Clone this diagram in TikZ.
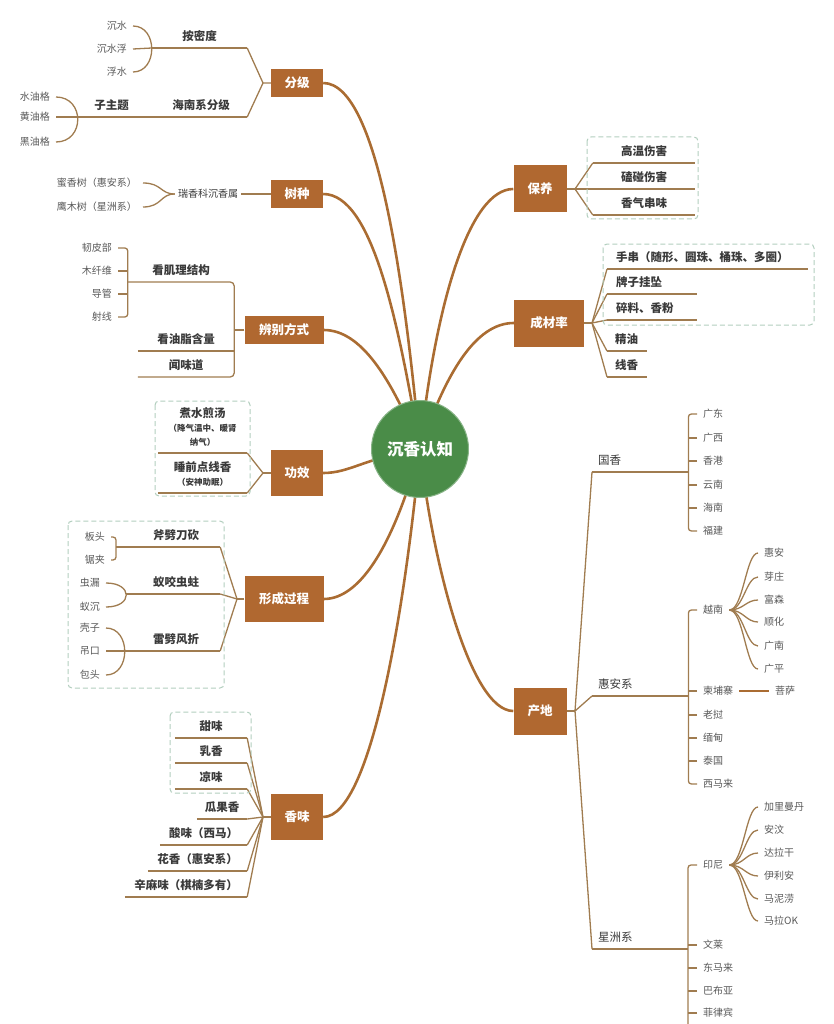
\documentclass[tikz,border=0pt]{standalone}
\usepackage{fontspec}
\setmainfont{Noto Sans CJK SC}
\usetikzlibrary{backgrounds}
\definecolor{hubclr}{RGB}{74,140,72}
\definecolor{boxclr}{RGB}{176,104,48}
\definecolor{trunkclr}{RGB}{170,108,50}
\definecolor{twigclr}{RGB}{160,124,80}
\definecolor{dashclr}{RGB}{178,206,190}
\definecolor{subclr}{RGB}{58,58,58}
\definecolor{leafclr}{RGB}{88,88,88}
\newcommand\gxnote{\bfseries\fontsize{8.5}{13}\selectfont}
\tikzset{
  hub/.style={circle,fill=hubclr,draw=hubclr!65!white,line width=1pt,
              minimum size=97,inner sep=0pt,text=white,
              font=\bfseries\fontsize{16.5}{18}\selectfont},
  topic/.style={rectangle,fill=boxclr,text=white,inner sep=0pt,
                font=\bfseries\fontsize{12.5}{14}\selectfont},
  trunk/.style={draw=trunkclr,line width=2.6pt},
  twig/.style={draw=twigclr,line width=1.3pt},
  subt/.style={anchor=south,inner xsep=0pt,inner ysep=6pt,text depth=1pt,
               text=subclr,font=\bfseries\fontsize{11.5}{14}\selectfont},
  lsub/.style={subt,anchor=south west,align=left,inner xsep=9pt},
  area/.style={lsub,inner xsep=6pt,text width=84,font=\fontsize{11.5}{14}\selectfont},
  uline/.style={append after command={(\tikzlastnode.south west) edge[twig] (\tikzlastnode.south east)}},
  leaf/.style={inner xsep=6pt,inner ysep=1pt,text=leafclr,
               font=\fontsize{10}{12}\selectfont},
  grp/.style={draw=dashclr,dash pattern=on 5pt off 3pt,line width=1pt,rounded corners=4pt},
}

\begin{document}
\begin{tikzpicture}[x=1pt,y=-1pt]
\useasboundingbox (0,0) rectangle (833,1024);

% centre
\node[hub] (root) at (420,449) {沉香认知};

% main topics
\node[topic,minimum width=52,minimum height=28] (fenji)     at (297,83)  {分级};
\node[topic,minimum width=52,minimum height=28] (shuzhong)  at (297,194) {树种};
\node[topic,minimum width=79,minimum height=28] (bianbie)   at (284,330) {辨别方式};
\node[topic,minimum width=52,minimum height=46] (gongxiao)  at (297,473) {功效};
\node[topic,minimum width=79,minimum height=46] (xingcheng) at (284,599) {形成过程};
\node[topic,minimum width=52,minimum height=46] (xiangwei)  at (297,817) {香味};
\node[topic,minimum width=53,minimum height=47] (baoyang)   at (540,189) {保养};
\node[topic,minimum width=70,minimum height=47] (chengcai)  at (549,323) {成材率};
\node[topic,minimum width=53,minimum height=47] (chandi)    at (540,711) {产地};

\begin{scope}[on background layer]
\draw[trunk] (fenji.east) .. controls (380,83) and (406,300) .. (root.center);
\draw[trunk] (shuzhong.east) .. controls (372,194) and (398,320) .. (root.center);
\draw[trunk] (bianbie.east) .. controls (360,330) and (390,375) .. (root.center);
\draw[trunk] (gongxiao.east) .. controls (350,473) and (365,458) .. (root.center);
\draw[trunk] (xingcheng.east) .. controls (362,599) and (395,540) .. (root.center);
\draw[trunk] (xiangwei.east) .. controls (372,817) and (406,600) .. (root.center);
\draw[trunk] (baoyang.west) .. controls (470,189) and (436,300) .. (root.center);
\draw[trunk] (chengcai.west) .. controls (476,323) and (446,372) .. (root.center);
\draw[trunk] (chandi.west) .. controls (470,711) and (432,560) .. (root.center);
\end{scope}

% 分级
\node[leaf,anchor=east] (chenshui)   at (133,26) {沉水};
\node[leaf,anchor=east] (chenshuifu) at (133,49) {沉水浮};
\node[leaf,anchor=east] (fushui)     at (133,72) {浮水};
\node[subt,uline,minimum width=95] (anmidu) at (199.5,48) {按密度};
\node[leaf,anchor=east] (shuiyou)  at (56,97)  {水油格};
\node[leaf,anchor=east] (huangyou) at (56,117) {黄油格};
\node[leaf,anchor=east] (heiyou)   at (56,142) {黑油格};
\node[subt,uline,minimum width=87] (zizhuti)  at (111.5,117) {子主题};
\node[subt,uline,minimum width=92] (hainanji) at (201,117) {海南系分级};
\coordinate (fjFork) at (263,83);
\draw[twig] (chenshui.east) .. controls (158,26) and (158,72) .. (fushui.east);
\draw[twig] (chenshuifu.east) -- (anmidu.south west);
\draw[twig] (shuiyou.east) .. controls (85,97) and (85,142) .. (heiyou.east);
\draw[twig] (huangyou.east) -- (zizhuti.south west);
\draw[twig] (fenji.west) -- (fjFork) -- (anmidu.south east);
\draw[twig] (fjFork) -- (hainanji.south east);

% 树种
\node[leaf,anchor=east] (mixiang) at (143,183) {蜜香树（惠安系）};
\node[leaf,anchor=east] (yingmu)  at (143,207) {鹰木树（星洲系）};
\node[leaf,inner xsep=3pt,text=subclr] (ruixiang) at (208,194) {瑞香科沉香属};
\draw[twig] (mixiang.east) .. controls (162,183) and (160,194) .. (ruixiang.west);
\draw[twig] (yingmu.east) .. controls (162,207) and (160,194) .. (ruixiang.west);
\draw[twig] (ruixiang.east) -- (shuzhong.west);

% 辨别方式
\node[leaf,anchor=east] (renpi)   at (118,248) {韧皮部};
\node[leaf,anchor=east] (muxian)  at (118,271) {木纤维};
\node[leaf,anchor=east] (daoguan) at (118,294) {导管};
\node[leaf,anchor=east] (shexian) at (118,317) {射线};
\node[subt,minimum width=106] (jili) at (181,282) {看肌理结构};
\node[subt,uline,minimum width=96] (youzhi) at (186,351) {看油脂含量};
\node[subt,minimum width=96] (wenwei) at (186,377) {闻味道};
\draw[twig,rounded corners=3] (renpi.east) -| (jili.south west) |- (shexian.east);
\foreach \n in {muxian,daoguan} \draw[twig] (\n.east) -- (\n.east -| jili.south west);
\draw[twig,rounded corners=4] (jili.south west) -- (jili.south east)
  -- (wenwei.south east) -- (wenwei.south west);
\draw[twig] (bianbie.west) -- (bianbie.west -| jili.south east);

% 功效
\node[subt,uline,minimum width=89,align=center] (zhushui) at (202.5,453)
  {煮水煎汤\\ {\gxnote（降气温中、暖肾}\\ {\gxnote 纳气）}};
\node[subt,uline,minimum width=89,align=center] (shuiqian) at (202.5,493)
  {睡前点线香\\ {\gxnote（安神助眠）}};
\coordinate (gxFork) at (263,473);
\draw[twig] (gongxiao.west) -- (gxFork);
\foreach \n in {zhushui,shuiqian} \draw[twig] (gxFork) -- (\n.south east);
\draw[grp] (155,401) rectangle (250,496);

% 形成过程
\node[leaf,anchor=east] (bantou)  at (111,537) {板头};
\node[leaf,anchor=east] (jujia)   at (111,560) {锯夹};
\node[leaf,anchor=east] (chonglou) at (106,583) {虫漏};
\node[leaf,anchor=east] (yichen)  at (106,607) {蚁沉};
\node[leaf,anchor=east] (kezi)    at (106,628) {壳子};
\node[leaf,anchor=east] (diaokou) at (106,651) {吊口};
\node[leaf,anchor=east] (baotou)  at (106,675) {包头};
\node[subt,uline,minimum width=88] (fupi)  at (176,547) {斧劈刀砍};
\node[subt,uline,minimum width=88] (yiyao) at (176,594) {蚁咬虫蛀};
\node[subt,uline,minimum width=88] (leipi) at (176,651) {雷劈风折};
\coordinate (ftBr) at (116,547);
\coordinate (yyBr) at (126,594);
\draw[twig,rounded corners=3] (bantou.east) -| (ftBr) |- (jujia.east);
\draw[twig] (ftBr) -- (fupi.south west);
\draw[twig] (chonglou.east) .. controls (133,583) and (133,607) .. (yichen.east);
\draw[twig] (yyBr) -- (yiyao.south west);
\draw[twig] (kezi.east) .. controls (131,628) and (131,675) .. (baotou.east);
\draw[twig] (diaokou.east) -- (leipi.south west);
\coordinate (xcFork) at (237,599);
\draw[twig] (xingcheng.west) -- (xcFork);
\foreach \n in {fupi,yiyao,leipi} \draw[twig] (xcFork) -- (\n.south east);
\draw[grp] (68,521) rectangle (224,688);

% 香味
\node[subt,uline,minimum width=72]  (tianwei)  at (211,738)   {甜味};
\node[subt,uline,minimum width=72]  (ruxiang)  at (211,763)   {乳香};
\node[subt,uline,minimum width=72]  (liangwei) at (211,789)   {凉味};
\node[subt,uline,minimum width=50]  (guaguo)   at (222,819)   {瓜果香};
\node[subt,uline,minimum width=87]  (suanwei)  at (203.5,845) {酸味（西马）};
\node[subt,uline,minimum width=99]  (huaxiang) at (197.5,871) {花香（惠安系）};
\node[subt,uline,minimum width=122] (xinma)    at (186,897)   {辛麻味（棋楠多有）};
\coordinate (xwFork) at (263,817);
\draw[twig] (xiangwei.west) -- (xwFork);
\foreach \n in {tianwei,ruxiang,liangwei,guaguo,suanwei,huaxiang,xinma}
  \draw[twig] (xwFork) -- (\n.south east);
\draw[grp] (170,712) rectangle (251,793);

% 保养
\node[subt,uline,minimum width=102] (gaowen)   at (644,163) {高温伤害};
\node[subt,uline,minimum width=102] (kepeng)   at (644,189) {磕碰伤害};
\node[subt,uline,minimum width=102] (chuanwei) at (644,215) {香气串味};
\coordinate (byFork) at (575,189);
\draw[twig] (baoyang.east) -- (byFork);
\foreach \n in {gaowen,kepeng,chuanwei} \draw[twig] (byFork) -- (\n.south west);
\draw[grp] (587,137) rectangle (698,219);

% 成材率
\node[lsub,uline,text width=183] (shouchuan) at (607,269) {手串（随形、圆珠、桶珠、多圈）};
\node[lsub,uline,text width=72]  (paizi)     at (607,294) {牌子挂坠};
\node[lsub,uline,text width=72]  (suiliao)   at (607,320) {碎料、香粉};
\node[lsub,uline,text width=24,inner xsep=8pt] (jingyou)   at (607,351) {精油};
\node[lsub,uline,text width=24,inner xsep=8pt] (xianxiang) at (607,377) {线香};
\coordinate (ccFork) at (592,323);
\draw[twig] (chengcai.east) -- (ccFork);
\foreach \n in {shouchuan,paizi,suiliao,jingyou,xianxiang}
  \draw[twig] (ccFork) -- (\n.south west);
\draw[grp] (603,244) rectangle (814,325);

% 产地
\node[area,uline] (guoxiang) at (592,472) {国香};
\node[area,uline] (huianxi)  at (592,696) {惠安系};
\node[area,uline] (xingzhou) at (592,949) {星洲系};
\coordinate (cdFork) at (575,711);
\draw[twig] (chandi.east) -- (cdFork);
\foreach \n in {guoxiang,huianxi,xingzhou} \draw[twig] (cdFork) -- (\n.south west);

% 国香
\foreach \n/\t/\y in {guangdong/广东/414,guangxi/广西/438,xianggang/香港/461,
                      yunnan/云南/485,hainan/海南/508,fujian/福建/531}
  \node[leaf,anchor=west] (\n) at (697,\y) {\t};
\draw[twig,rounded corners=3] (guangdong.west) -| (guoxiang.south east) |- (fujian.west);
\foreach \n in {guangxi,xianggang,yunnan,hainan}
  \draw[twig] (\n.west) -- (\n.west -| guoxiang.south east);

% 惠安系
\foreach \n/\t/\y in {yuenan/越南/610,jianpuzhai/柬埔寨/691,laowo/老挝/715,
                      miandian/缅甸/738,taiguo/泰国/761,ximalai/西马来/784}
  \node[leaf,anchor=west] (\n) at (697,\y) {\t};
\draw[twig,rounded corners=3] (yuenan.west) -| (huianxi.south east) |- (ximalai.west);
\foreach \n in {jianpuzhai,laowo,miandian,taiguo}
  \draw[twig] (\n.west) -- (\n.west -| huianxi.south east);
\foreach \n/\t/\y in {huian/惠安/553,yazhuang/芽庄/577,fusen/富森/600,
                      shunhua/顺化/622,guangnan/广南/646,guangping/广平/669} {
  \node[leaf,anchor=west] (\n) at (758,\y) {\t};
  \draw[twig] (yuenan.east) .. controls +(14,0) and +(-12,0) .. (\n.west);
}
\node[leaf,anchor=west] (pusa) at (769,691) {菩萨};
\draw[draw=trunkclr,line width=2.4pt] (jianpuzhai.east) -- (pusa.west);

% 星洲系
\foreach \n/\t/\y in {yinni/印尼/865,wenlai/文莱/945,dongmalai/东马来/968,
                      babuya/巴布亚/991,feilvbin/菲律宾/1013}
  \node[leaf,anchor=west] (\n) at (697,\y) {\t};
\coordinate (xzEnd) at (688,1030);
\draw[twig,rounded corners=3] (yinni.west) -| (xzEnd);
\foreach \n in {wenlai,dongmalai,babuya,feilvbin}
  \draw[twig] (\n.west) -- (\n.west -| xzEnd);
\foreach \n/\t/\y in {jiali/加里曼丹/807,anwen/安汶/830,dalagan/达拉干/853,
                      yilian/伊利安/876,manilao/马泥涝/899,malaok/马拉OK/921} {
  \node[leaf,anchor=west] (\n) at (758,\y) {\t};
  \draw[twig] (yinni.east) .. controls +(14,0) and +(-12,0) .. (\n.west);
}

\end{tikzpicture}
\end{document}
